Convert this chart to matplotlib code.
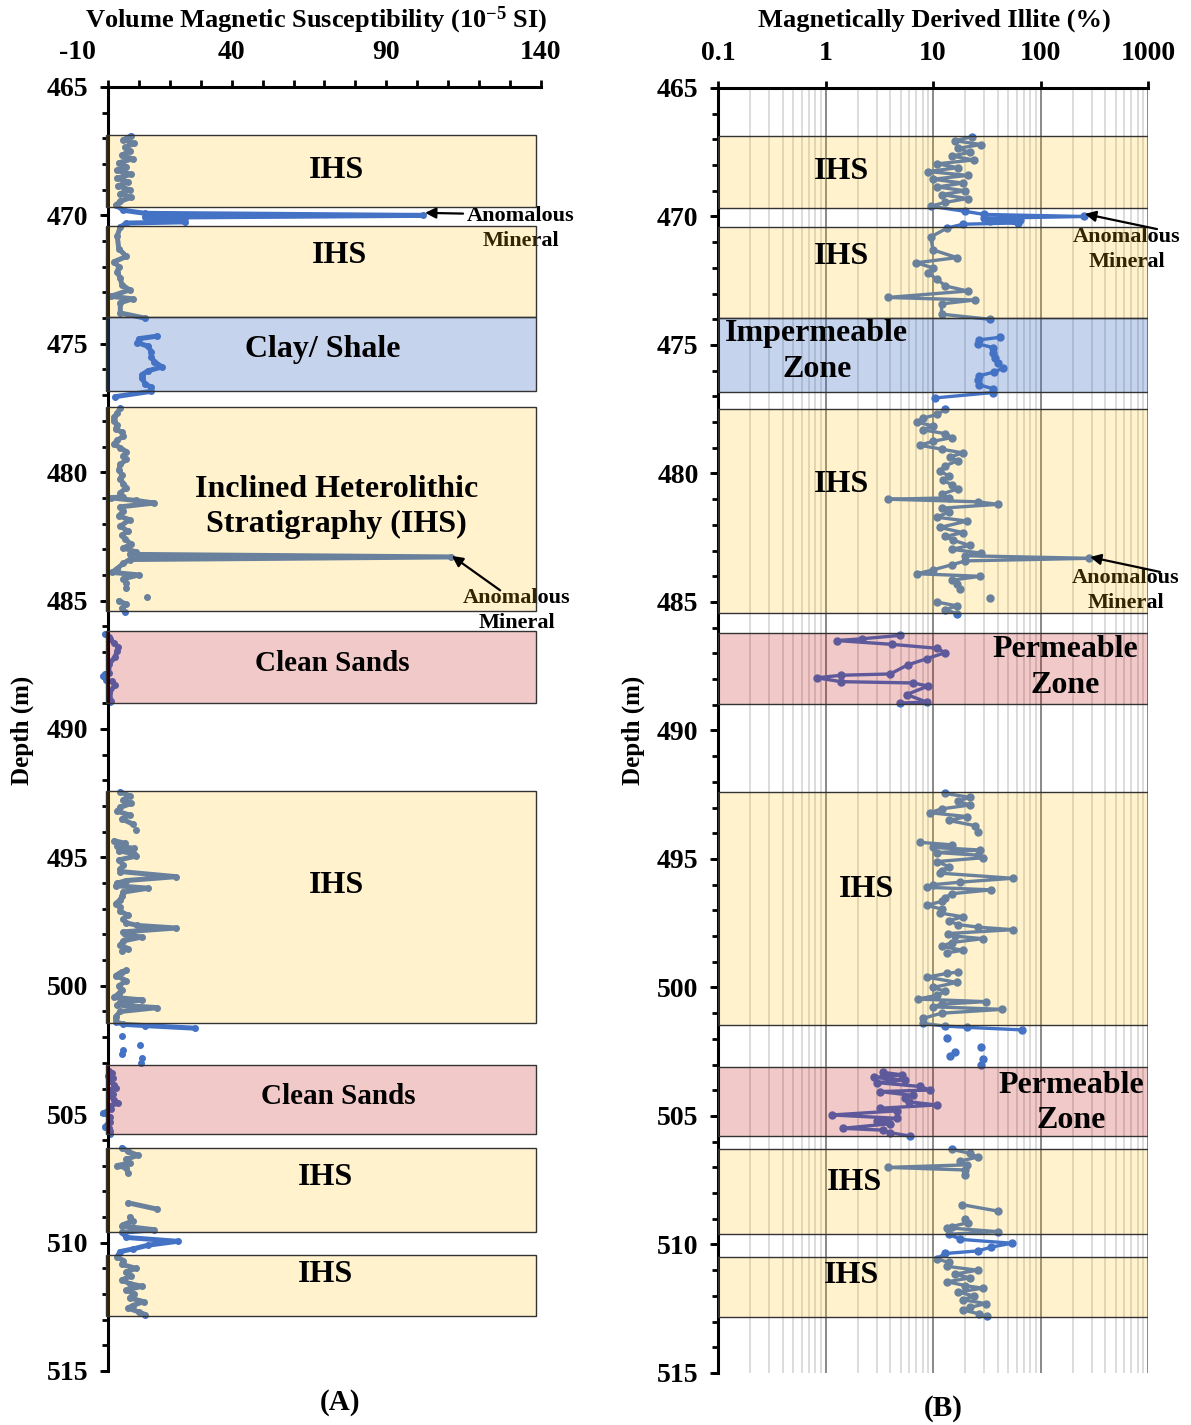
import numpy as np
import matplotlib
matplotlib.use('Agg')
import matplotlib.pyplot as plt
from matplotlib.patches import Rectangle
from matplotlib.ticker import LogLocator, NullFormatter

plt.rcParams['font.family'] = ['Liberation Serif', 'DejaVu Serif']
plt.rcParams['font.weight'] = 'bold'
plt.rcParams['axes.unicode_minus'] = False
plt.rcParams['mathtext.fontset'] = 'custom'
plt.rcParams['mathtext.rm'] = 'Liberation Serif:bold'
plt.rcParams['mathtext.it'] = 'Liberation Serif:bold'
plt.rcParams['mathtext.bf'] = 'Liberation Serif:bold'

nan = float('nan')

# depth (m), nan = break in the log
depth = [466.90, 467.05, 467.20, 467.35, 467.50, 467.65, 467.80, 467.95, 468.10, 468.25, 468.40, 468.55, 468.70, 468.85, 469.00, 469.15, 469.30, 469.45, 469.60, 469.80, 469.92, 470.00, 470.07, 470.12, 470.18, 470.25, 470.30, 470.45, 470.80, 471.30, 471.60, 471.80, 472.00, 472.20, 472.45, 472.70, 472.90, 473.15, 473.25, 473.40, 473.80, 474.00, nan,
         474.70, 474.80, 474.95, 475.10, 475.30, 475.50, 475.70, 475.90, 476.05, 476.20, 476.35, 476.55, 476.70, 476.85, 477.06, nan,
         477.50, 477.70, 477.85, 478.00, 478.15, 478.30, 478.45, 478.60, 478.75, 478.90, 479.05, 479.20, 479.35, 479.50, 479.70, 479.90, 480.10, 480.25, 480.45, 480.60, 480.80, 480.95, 481.00, 481.10, 481.20, 481.35, 481.50, 481.70, 481.85, 482.10, 482.30, 482.45, 482.60, 482.80, 482.95, 483.10, 483.20, 483.30, 483.40, 483.55, 483.75, 483.90, 484.00, 484.15, 484.30, 484.50, nan,
         484.85, nan,
         485.00, 485.15, 485.30, 485.45, nan,
         486.30, 486.43, 486.50, 486.65, 486.80, 486.97, 487.20, 487.45, 487.80, 487.85, 487.95, 488.10, 488.15, 488.27, 488.60, 488.90, 488.93, nan,
         492.45, 492.60, 492.75, 492.90, 493.05, 493.20, 493.35, 493.50, 493.70, nan,
         493.95, nan,
         494.35, 494.45, 494.55, 494.65, 494.75, 494.85, 494.95, 495.10, 495.30, 495.45, 495.55, 495.75, 495.90, 496.00, 496.10, 496.20, 496.35, 496.50, 496.65, 496.80, 496.95, 497.10, 497.25, 497.40, 497.55, 497.65, 497.75, 497.90, 498.00, 498.10, 498.25, 498.40, 498.55, 498.65, nan,
         499.40, 499.45, 499.60, 499.80, 500.00, 500.15, 500.30, 500.45, 500.55, 500.65, 500.75, 500.85, 501.00, 501.20, 501.40, 501.50, 501.55, 501.65, nan,
         501.95, nan, 502.30, nan, 502.50, nan, 502.65, nan, 502.80, nan, 503.00, nan,
         503.30, 503.40, 503.50, 503.60, 503.70, 503.85, 503.99, 504.05, 504.20, 504.31, 504.45, 504.57, 504.70, 504.80, 504.96, 505.09, 505.20, 505.30, 505.48, 505.55, 505.65, 505.78, nan,
         506.30, 506.45, 506.60, 506.75, 506.90, 507.00, 507.10, 507.30, nan,
         508.45, 508.70, nan,
         509.00, 509.15, 509.30, 509.35, 509.50, 509.60, 509.80, 509.95, 510.10, 510.25, 510.35, 510.55, 510.70, 510.85, 511.00, 511.15, 511.30, 511.45, 511.60, 511.70, 511.85, 512.00, 512.15, 512.30, 512.45, 512.55, 512.70, 512.80]

# volume magnetic susceptibility (1e-5 SI)
chi = [7.5, 5.0, 8.5, 5.5, 7.0, 4.5, 8.0, 3.5, 6.0, 2.8, 7.5, 3.0, 6.5, 3.2, 7.0, 4.0, 7.5, 4.0, 2.5, 5.0, 12, 102, 12, 25, 14, 25, 6, 4, 3, 3.5, 6, 2, 3.5, 3, 4, 4.5, 7, 1.0, 8, 4, 4, 12, nan,
       16, 10, 9.5, 13, 14, 14, 15, 17.5, 13, 11, 11, 12, 14, 14, 2.3, nan,
       4, 3, 2, 1.8, 3, 2.5, 4.5, 5, 3, 2, 4, 6, 5, 6, 4, 3.5, 4.5, 4, 5, 6, 4, 5, 1, 9, 15, 4, 5, 3.5, 7, 4, 6.5, 4.5, 5.5, 7.5, 5, 9, 7, 111, 7, 5, 3, 1.3, 10, 5, 6, 6, nan,
       12.5, nan,
       3.5, 6, 4.5, 5.5, nan,
       -1.0, 0.3, 0.6, 2.0, 3.2, 3.0, 2.3, 0.5, 0.2, -1.0, -1.6, -0.5, 1.3, 2.3, 0.5, 1.0, 0.6, nan,
       4, 7, 5, 7.5, 4, 3, 7, 4.5, 8, nan,
       9, nan,
       2, 5.5, 3, 8.5, 3.5, 8.5, 9, 3.5, 5, 4, 4, 22, 6, 3, 2.5, 13, 5, 4.5, 4, 2.5, 4, 4, 6.5, 5, 6, 9.5, 22, 5, 5.5, 11, 5, 4, 6.5, 4.5, nan,
       6, 4.5, 2.5, 6, 3.5, 4.5, 3.5, 2, 11, 4, 3, 16, 4, 2.5, 2.5, 5, 12, 28, nan,
       4.5, nan, 10.3, nan, 5, nan, 4.5, nan, 11, nan, 10.7, nan,
       0.2, 1.2, 0.0, 1.6, 0.3, 2.0, 2.5, 0.4, 1.5, 1.2, 1.8, 3.2, 0.2, 1.0, -1.6, 0.8, 0.2, 0.6, -1.0, 0.3, 0.6, 0.6, nan,
       4.5, 6.5, 9.7, 6, 7, 3, 6, 6.5, nan,
       6.5, 16, nan,
       7, 8, 5, 4.5, 15, 4.5, 6, 22.5, 13, 8, 3.9, 3, 5, 4.5, 9, 6, 7.5, 4.5, 7, 11, 6, 8.5, 7, 11.5, 8, 6.5, 10, 12]

# magnetically derived illite (%)
illite = [23, 16, 28, 17, 22, 15, 24, 11, 17, 9, 21, 10, 19, 11, 20, 12, 21, 13, 9.5, 20, 30, 255, 30, 64, 34, 62, 19, 13.5, 9.5, 10, 16.7, 7, 10, 9, 11, 13, 21, 3.8, 24.5, 12, 12, 34, nan,
          42, 27, 26, 36, 36, 38, 40, 45, 37, 27, 26, 27, 36, 36, 10.4, nan,
          13, 11, 8, 7.1, 10, 8, 13, 15, 10, 7.5, 12, 19, 14.5, 17, 13, 11.6, 14, 12.4, 15, 17, 12, 14, 3.8, 26, 40, 12, 14, 10.8, 20.7, 11.6, 19, 13, 15.5, 22, 15, 28, 20, 285, 20, 15, 10, 7.1, 27.5, 15, 16.7, 18, nan,
          34, nan,
          10.8, 16.7, 13, 16.7, nan,
          4.9, 2.2, 1.28, 4.2, 10.8, 13, 8.8, 5.8, 4, 1.4, 0.83, 1.4, 6.5, 9, 5.7, 8.8, 4.9, nan,
          13, 22, 17, 22, 12, 9.4, 20.7, 14, 24.5, nan,
          26, nan,
          7.5, 15, 10, 27.5, 11, 26, 29, 11, 14, 12, 11.6, 55, 18, 10, 8.8, 35, 15, 13, 12, 8.8, 12, 11.6, 19, 14, 17, 26, 55, 13.8, 16, 29, 15, 12, 19, 13.5, nan,
          17, 13.5, 8.8, 16.7, 10, 13, 11, 7.2, 31, 12, 10, 44, 12, 8.1, 8.1, 13, 20.7, 68, nan,
          13.5, nan, 28, nan, 16, nan, 14.5, nan, 29, nan, 28, nan,
          3.4, 5.2, 2.8, 5.5, 3.0, 7.5, 9.4, 3.2, 6.5, 5.5, 6.0, 10.8, 3.2, 4.6, 1.15, 4.6, 3.0, 4.0, 1.45, 3.4, 4.0, 6.1, nan,
          15, 22, 26, 18, 20.7, 3.8, 20, 20, nan,
          18.6, 40, nan,
          20, 21, 15, 13.5, 40, 14, 18, 54, 35, 26, 13, 10.8, 14, 13.5, 26, 16, 22, 13.5, 20, 29, 17, 24, 19, 31, 22, 19, 27, 32]

# interpreted zones
zone_top = [466.87, 470.41, 473.96, 477.48, 486.20, 492.40, 503.10, 506.30, 510.47]
zone_base = [469.66, 473.95, 476.82, 485.42, 488.98, 501.45, 505.78, 509.59, 512.84]
zone_kind = ['IHS', 'IHS', 'clay', 'IHS', 'sand', 'IHS', 'sand', 'IHS', 'IHS']

fills = {'IHS': (1.0, 0.753, 0.0, 0.20),
         'clay': (0.267, 0.447, 0.769, 0.31),
         'sand': (0.753, 0.0, 0.0, 0.21)}

W, H = 1191, 1425
fig = plt.figure(figsize=(W / 100, H / 100), dpi=100)
axA = fig.add_axes([77 / W, 1 - 1371 / H, 464 / W, 1284 / H])
axB = fig.add_axes([718 / W, 1 - 1373 / H, 430 / W, 1285 / H])

blue = '#4472C4'
edge = '#333333'

# ---- panel A
axA.plot(chi, depth, color=blue, lw=3.6, marker='o', ms=4, solid_capstyle='round',
         solid_joinstyle='round', zorder=2)
for t, b, k in zip(zone_top, zone_base, zone_kind):
    axA.add_patch(Rectangle((-0.7, t), 139.2, b - t, facecolor=fills[k], edgecolor=edge,
                            lw=1.0, zorder=3))
axA.set_xlim(-10, 140)

# ---- panel B
axB.set_xscale('log')
axB.plot(illite, depth, color=blue, lw=2.4, marker='o', ms=5, zorder=2)
for t, b, k in zip(zone_top, zone_base, zone_kind):
    axB.add_patch(Rectangle((0.1, t), 999.9, b - t, facecolor=fills[k], edgecolor=edge,
                            lw=1.0, zorder=3))
axB.set_xlim(0.1, 1000)
axB.xaxis.set_minor_locator(LogLocator(base=10, subs=np.arange(2, 10), numticks=20))
axB.xaxis.set_minor_formatter(NullFormatter())
axB.grid(True, which='major', axis='x', color='#808080', lw=1.3)
axB.grid(True, which='minor', axis='x', color='#D9D9D9', lw=1.3)

for ax in (axA, axB):
    ax.set_ylim(515, 465)
    ax.set_yticks(np.arange(465, 516, 5))
    ax.set_yticks(np.arange(465, 516, 1), minor=True)
    ax.yaxis.remove_overlapping_locs = False
    ax.xaxis.set_ticks_position('top')
    for s in ('right', 'bottom'):
        ax.spines[s].set_visible(False)
    ax.spines['left'].set_linewidth(2.2)
    ax.spines['top'].set_linewidth(2.2)
    ax.tick_params(axis='y', which='major', length=6, width=2, pad=8, labelsize=20)
    ax.tick_params(axis='y', which='minor', length=4, width=2)
    for lab in ax.get_yticklabels():
        lab.set_fontweight('bold')

axA.spines['left'].set_position(('data', 0))
axA.spines['top'].set_bounds(0, 140)
axA.set_xticks([-10, 40, 90, 140])
axA.set_xticks(np.arange(0, 141, 10), minor=True)
axA.xaxis.remove_overlapping_locs = False
axA.tick_params(axis='x', which='major', length=0, pad=16, labelsize=20)
axA.tick_params(axis='x', which='minor', length=5, width=2)

axB.set_xticks([0.1, 1, 10, 100, 1000])
axB.set_xticklabels(['0.1', '1', '10', '100', '1000'])
axB.tick_params(axis='x', which='major', length=5, width=2, pad=11, labelsize=20)
axB.tick_params(axis='x', which='minor', length=0)

# zone labels
lbl = dict(ha='center', va='center', fontsize=23, fontweight='bold', zorder=4)
sand = dict(lbl, fontsize=21)
axA.text(74, 468.27, 'IHS', **lbl)
axA.text(75, 471.58, 'IHS', **lbl)
axA.text(69.5, 475.24, 'Clay/ Shale', **lbl)
axA.text(74, 481.36, 'Inclined Heterolithic\nStratigraphy (IHS)', linespacing=1.3, **lbl)
axA.text(72.4, 487.43, 'Clean Sands', **sand)
axA.text(74, 496.11, 'IHS', **lbl)
axA.text(74.4, 504.33, 'Clean Sands', **sand)
axA.text(70.2, 507.45, 'IHS', **lbl)
axA.text(70.2, 511.26, 'IHS', **lbl)

axB.text(1.42, 468.23, 'IHS', **lbl)
axB.text(1.42, 471.54, 'IHS', **lbl)
axB.text(0.83, 475.25, 'Impermeable\nZone', linespacing=1.3, **lbl)
axB.text(1.42, 480.41, 'IHS', **lbl)
axB.text(169, 487.55, 'Permeable\nZone', linespacing=1.3, **lbl)
axB.text(2.43, 496.2, 'IHS', **lbl)
axB.text(192, 504.49, 'Permeable\nZone', linespacing=1.3, **lbl)
axB.text(1.88, 507.6, 'IHS', **lbl)
axB.text(1.73, 511.19, 'IHS', **lbl)

# anomalous mineral call-outs (text sits under the zone fill)
ann = dict(ha='center', va='center', fontsize=16, fontweight='bold', linespacing=1.35, zorder=2.8)
arr = dict(arrowstyle='-|>', color='black', lw=1.6, mutation_scale=16, shrinkA=0, shrinkB=0)
axA.text(133.5, 470.5, 'Anomalous\nMineral', **ann)
axA.annotate('', xy=(102.5, 469.9), xytext=(114.8, 469.93), arrowprops=arr, zorder=5)
axA.text(132.2, 485.39, 'Anomalous\nMineral', **ann)
axA.annotate('', xy=(111.2, 483.26), xytext=(126.8, 484.6), arrowprops=arr, zorder=5)
axB.text(638, 471.28, 'Anomalous\nMineral', **ann)
axB.annotate('', xy=(259, 469.9), xytext=(1213, 470.49), arrowprops=arr, zorder=5,
             annotation_clip=False)
axB.text(624, 484.55, 'Anomalous\nMineral', **ann)
axB.annotate('', xy=(289, 483.25), xytext=(1294, 483.83), arrowprops=arr, zorder=5,
             annotation_clip=False)

# titles and labels
fig.text(316 / W, 1 - 20 / H, 'Volume Magnetic Susceptibility (10$^{-5}$ SI)',
         ha='center', va='center', fontsize=19, fontweight='bold')
fig.text(934 / W, 1 - 20 / H, 'Magnetically Derived Illite (%)',
         ha='center', va='center', fontsize=19, fontweight='bold')
fig.text(22 / W, 1 - 730 / H, 'Depth (m)', rotation=90, ha='center', va='center',
         fontsize=18, fontweight='bold')
fig.text(633 / W, 1 - 730 / H, 'Depth (m)', rotation=90, ha='center', va='center',
         fontsize=18, fontweight='bold')
fig.text(340 / W, 1 - 1403 / H, '(A)', ha='center', va='center', fontsize=21, fontweight='bold')
fig.text(943 / W, 1 - 1408 / H, '(B)', ha='center', va='center', fontsize=21, fontweight='bold')

fig.savefig('out.png', dpi=100)
